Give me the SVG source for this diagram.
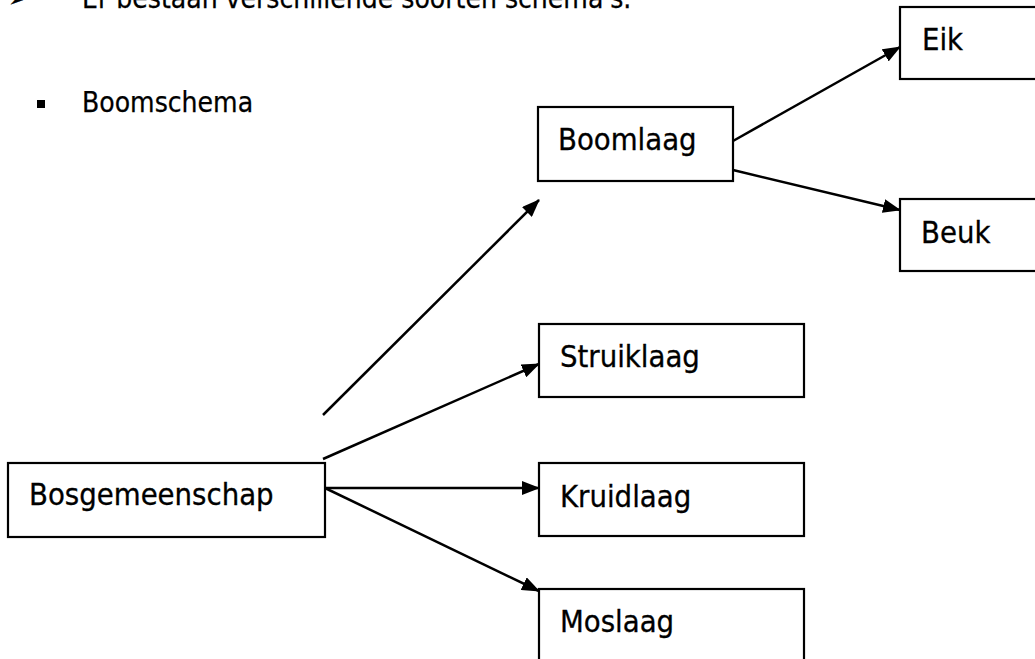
<svg xmlns="http://www.w3.org/2000/svg" width="1035" height="659" viewBox="0 0 1035 659">
<style>
.box{fill:#fff;stroke:#000;stroke-width:2.2}
.lbl{font-family:"DejaVu Sans Condensed","Liberation Sans",sans-serif;font-size:30.7px;fill:#000;stroke:#000;stroke-width:0.3}
.txt{font-family:"DejaVu Sans Condensed","Liberation Sans",sans-serif;font-size:28px;fill:#000;stroke:#000;stroke-width:0.25}
.con{stroke:#000;stroke-width:2.5;fill:none;marker-end:url(#ah)}
</style>
<defs>
<marker id="ah" markerUnits="userSpaceOnUse" markerWidth="18" markerHeight="14" refX="17" refY="7" orient="auto">
<path d="M0,0 L18,7 L0,14 Z" fill="#000"/>
</marker>
</defs>
<rect width="1035" height="659" fill="#fff"/>
<g id="header">
<text class="txt" x="8" y="7" font-family="DejaVu Sans" font-size="22">➢</text>
<text class="txt" x="82" y="8">Er bestaan verschillende soorten schema's.</text>
<rect x="37" y="100" width="8" height="8" fill="#000"/>
<text class="txt" x="82" y="112">Boomschema</text>
</g>
<g id="connectors">
<line class="con" x1="323" y1="415" x2="539" y2="200"/>
<line class="con" x1="323" y1="459" x2="539" y2="364"/>
<line class="con" x1="325" y1="488" x2="539" y2="488"/>
<line class="con" x1="325" y1="488" x2="539" y2="591"/>
<line class="con" x1="733" y1="141" x2="900" y2="47"/>
<line class="con" x1="733" y1="170" x2="900" y2="210"/>
</g>
<g id="node-bosgemeenschap">
<rect class="box" x="8" y="463" width="317" height="74"/>
<text class="lbl" x="29" y="505">Bosgemeenschap</text>
</g>
<g id="node-boomlaag">
<rect class="box" x="538" y="107" width="195" height="74"/>
<text class="lbl" x="558" y="150">Boomlaag</text>
</g>
<g id="node-eik">
<rect class="box" x="900" y="7" width="265" height="72"/>
<text class="lbl" x="922" y="50">Eik</text>
</g>
<g id="node-beuk">
<rect class="box" x="900" y="199" width="265" height="72"/>
<text class="lbl" x="921" y="243">Beuk</text>
</g>
<g id="node-struiklaag">
<rect class="box" x="539" y="324" width="265" height="73"/>
<text class="lbl" x="560" y="367">Struiklaag</text>
</g>
<g id="node-kruidlaag">
<rect class="box" x="539" y="463" width="265" height="73"/>
<text class="lbl" x="560" y="507">Kruidlaag</text>
</g>
<g id="node-moslaag">
<rect class="box" x="539" y="589" width="265" height="100"/>
<text class="lbl" x="560" y="632">Moslaag</text>
</g>
</svg>
